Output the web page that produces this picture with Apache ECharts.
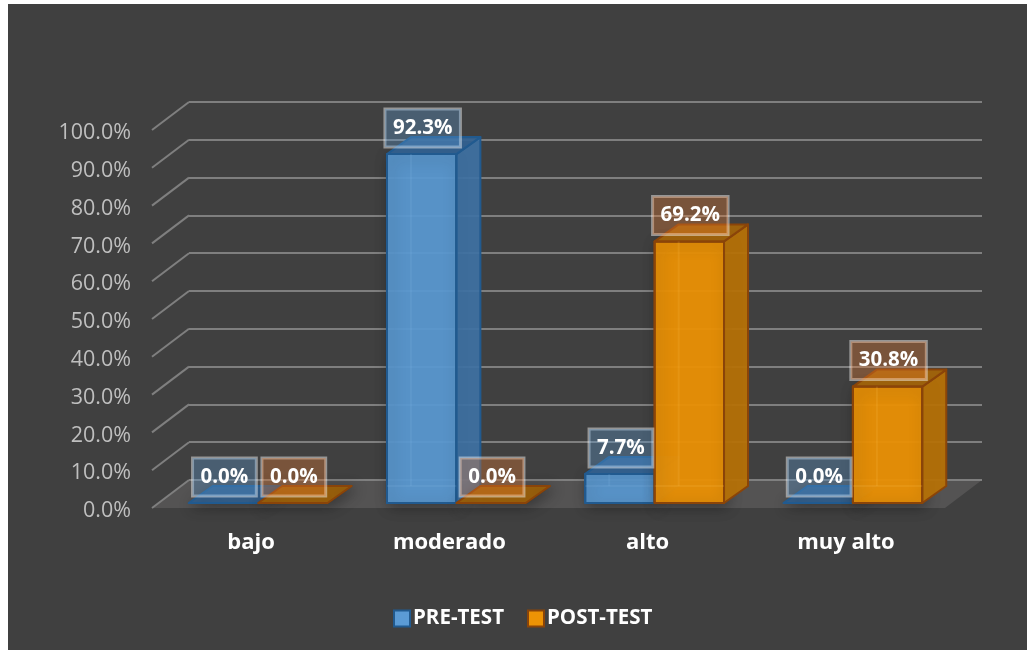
<!DOCTYPE html>
<html>
<head>
<meta charset="utf-8">
<title>PRE-TEST / POST-TEST</title>
<style>
html, body { margin: 0; padding: 0; background: #fff; }
#main { position: absolute; left: 8px; top: 4px; width: 1019px; height: 646px; }
</style>
<script src="https://cdn.jsdelivr.net/npm/echarts@6/dist/echarts.min.js"></script>
</head>
<body>
<div id="main"></div>
<script>
var categories = ['bajo', 'moderado', 'alto', 'muy alto'];
var preTest = [0.0, 92.3, 7.7, 0.0];
var postTest = [0.0, 0.0, 69.2, 30.8];
var yTicks = [0, 10, 20, 30, 40, 50, 60, 70, 80, 90, 100];

var BG = '#404040';
var FONT = '"Open Sans", sans-serif';

// depth of the fake 3D box, in pixels
var WALL_DX = 37, WALL_DY = 28;
var BAR_DX = 24, BAR_DY = 17;
var INSET_DX = 7, INSET_DY = 5;

var preColors = { front: 'rgba(91,155,213,0.92)', side: 'rgba(62,113,163,0.92)', top: 'rgba(50,98,146,0.92)', line: '#215a8f', back: 'rgba(150,195,235,0.12)' };
var postColors = { front: 'rgba(237,147,5,0.94)', side: 'rgba(182,113,6,0.94)', top: 'rgba(163,100,8,0.94)', line: '#8a4409', back: 'rgba(255,190,80,0.16)' };

function toPairs(values) {
	var res = [];
	for (var i = 0; i < values.length; i++) {
		res.push([i, values[i]]);
	}
	return res;
}

function poly(points, fill, stroke) {
	return {
		type: 'polygon',
		shape: { points: points },
		style: { fill: fill, stroke: stroke, lineWidth: 2, lineJoin: 'round' }
	};
}

function edge(x1, y1, x2, y2, color) {
	return { type: 'line', shape: { x1: x1, y1: y1, x2: x2, y2: y2 }, style: { stroke: color, lineWidth: 2 } };
}

function shadow(el) {
	el.style.shadowBlur = 14;
	el.style.shadowColor = 'rgba(0,0,0,0.35)';
	el.style.shadowOffsetX = 3;
	el.style.shadowOffsetY = 3;
	return el;
}

// the bar's left edge inside its category, serie 0 left of centre, serie 1 right of it
function barLeft(api, serie) {
	var band = api.size([1, 0])[0];
	var w = band * 0.35;
	var c = api.coord([api.value(0), 0])[0] + INSET_DX;
	return { x: serie === 0 ? c - w : c, w: w };
}

function makeBar(serie, col) {
	return function (params, api) {
		var b = barLeft(api, serie);
		var x = b.x, w = b.w;
		var base = api.coord([api.value(0), 0])[1] - INSET_DY;
		var top = api.coord([api.value(0), api.value(1)])[1] - INSET_DY;
		var dx = BAR_DX, dy = BAR_DY;
		var side = poly([[x + w, top], [x + w + dx, top - dy], [x + w + dx, base - dy], [x + w, base]], col.side, col.line);
		var lid = poly([[x, top], [x + dx, top - dy], [x + w + dx, top - dy], [x + w, top]], col.top, col.line);
		var kids = [];
		if (api.value(1) > 0) {
			kids.push(shadow(poly([[x, top], [x + w, top], [x + w, base], [x, base]], col.front, col.line)));
			kids.push(side, lid);
			kids.push(poly([[x, top], [x + w, top], [x + w, base], [x, base]], 'rgba(0,0,0,0)', col.line));
			kids.push(edge(x + dx, top, x + dx, base - dy, col.back));
			kids.push(edge(x, base - dy, x + w, base - dy, col.back));
		} else {
			kids.push(side, shadow(lid));
		}
		return { type: 'group', children: kids };
	};
}

function makeLabel(serie, fill) {
	return function (params, api) {
		var b = barLeft(api, serie);
		var top = api.coord([api.value(0), api.value(1)])[1] - INSET_DY;
		return {
			type: 'text',
			x: b.x + b.w / 2 + 1,
			y: top - 26,
			style: {
				text: api.value(1).toFixed(1) + '%',
				fill: '#fff',
				font: 'bold 20.5px ' + FONT,
				align: 'center',
				verticalAlign: 'middle',
				backgroundColor: fill,
				borderColor: 'rgba(255,255,255,0.45)',
				borderWidth: 1.5,
				padding: [9, 8, 8, 8]
			}
		};
	};
}

var option = {
	backgroundColor: BG,
	animation: false,
	legend: {
		data: ['PRE-TEST', 'POST-TEST'],
		left: 380,
		top: 599,
		itemWidth: 16,
		itemHeight: 16,
		itemGap: 23,
		icon: 'rect',
		textStyle: { color: '#fff', fontFamily: FONT, fontWeight: 'bold', fontSize: 20.5, padding: [0, 0, 0, -2] }
	},
	grid: [
		{ left: 144, top: 126, width: 793, height: 378 },
		{ left: 144 + WALL_DX, top: 126 - WALL_DY, width: 793, height: 378 },
		// only carries the tick labels, which sit 3px under their gridlines
		{ left: 144, top: 129, width: 793, height: 378 }
	],
	xAxis: [
		{
			type: 'category',
			gridIndex: 0,
			data: categories,
			axisLine: { show: false },
			axisTick: { show: false },
			axisLabel: { color: '#fff', fontFamily: FONT, fontWeight: 'bold', fontSize: 22, margin: 24 }
		},
		{ type: 'category', gridIndex: 1, data: categories, show: false },
		{ type: 'category', gridIndex: 2, data: categories, show: false }
	],
	yAxis: [
		{
			type: 'value',
			gridIndex: 0,
			min: 0,
			max: 100,
			interval: 10,
			axisLine: { show: false },
			axisTick: { show: false },
			axisLabel: { show: false },
			splitLine: { show: false }
		},
		{
			type: 'value',
			gridIndex: 1,
			min: 0,
			max: 100,
			interval: 10,
			z: 1,
			axisLine: { show: false },
			axisTick: { show: false },
			axisLabel: { show: false },
			splitLine: { lineStyle: { color: '#7f7f7f', width: 2 } }
		},
		{
			type: 'value',
			gridIndex: 2,
			min: 0,
			max: 100,
			interval: 10,
			axisLine: { show: false },
			axisTick: { show: false },
			splitLine: { show: false },
			axisLabel: {
				color: '#bfbfbf',
				fontFamily: FONT,
				fontSize: 21.5,
				margin: 21,
				formatter: function (v) { return v.toFixed(1) + '%'; }
			}
		}
	],
	series: [
		{
			// floor of the box
			name: 'floor',
			type: 'custom',
			z: 0,
			silent: true,
			xAxisIndex: 0,
			yAxisIndex: 0,
			data: [[0, 0]],
			renderItem: function (params, api) {
				var a = api.coord([0, 0]);
				var l = params.coordSys.x;
				var w = params.coordSys.width;
				return {
					type: 'polygon',
					shape: { points: [[l, a[1]], [l + w, a[1]], [l + w + WALL_DX, a[1] - WALL_DY], [l + WALL_DX, a[1] - WALL_DY]] },
					style: { fill: '#545353' }
				};
			}
		},
		{
			// diagonals on the left wall, one per tick
			name: 'wall',
			type: 'custom',
			z: 1,
			silent: true,
			xAxisIndex: 0,
			yAxisIndex: 0,
			data: yTicks.map(function (t) { return [0, t]; }),
			renderItem: function (params, api) {
				var y = api.coord([0, api.value(1)])[1];
				var l = params.coordSys.x;
				return {
					type: 'line',
					shape: { x1: l, y1: y, x2: l + WALL_DX, y2: y - WALL_DY },
					style: { stroke: '#7f7f7f', lineWidth: 2 }
				};
			}
		},
		{
			name: 'PRE-TEST',
			type: 'custom',
			z: 3,
			xAxisIndex: 0,
			yAxisIndex: 0,
			itemStyle: { color: '#5b9bd5', borderColor: '#215a8f', borderWidth: 2 },
			data: toPairs(preTest),
			renderItem: makeBar(0, preColors)
		},
		{
			name: 'POST-TEST',
			type: 'custom',
			z: 3,
			xAxisIndex: 0,
			yAxisIndex: 0,
			itemStyle: { color: '#ed9305', borderColor: '#8a4409', borderWidth: 2 },
			data: toPairs(postTest),
			renderItem: makeBar(1, postColors)
		},
		{
			name: 'pre labels',
			type: 'custom',
			z: 5,
			xAxisIndex: 0,
			yAxisIndex: 0,
			data: toPairs(preTest),
			renderItem: makeLabel(0, 'rgba(91,155,213,0.33)')
		},
		{
			name: 'post labels',
			type: 'custom',
			z: 5,
			xAxisIndex: 0,
			yAxisIndex: 0,
			data: toPairs(postTest),
			renderItem: makeLabel(1, 'rgba(237,125,49,0.33)')
		}
	]
};

var myChart = echarts.init(document.getElementById('main'));
myChart.setOption(option);
</script>
</body>
</html>
